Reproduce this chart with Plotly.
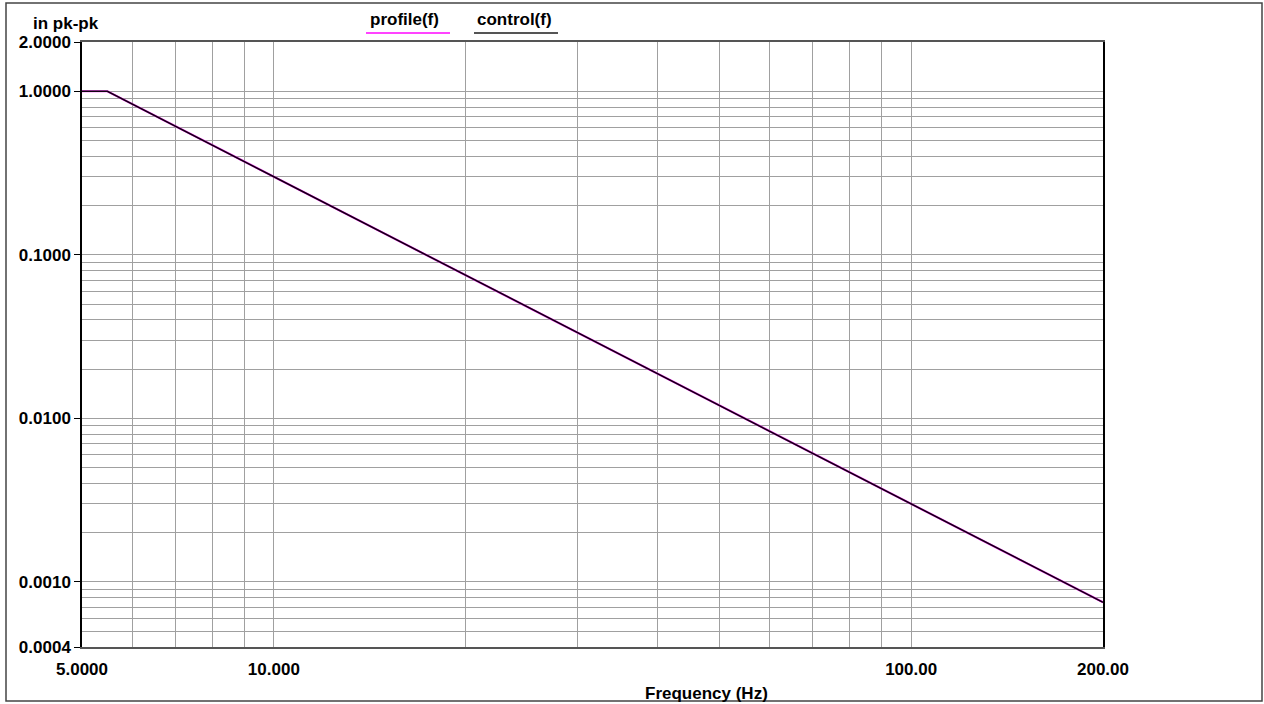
import plotly.graph_objects as go

# ---- data ----
freq_hz = [5.0, 5.48, 10.0, 20.0, 50.0, 100.0, 200.0]
profile_in = [1.0, 1.0, 0.300, 0.0751, 0.0120, 0.00300, 0.00075]
control_in = [1.0, 1.0, 0.300, 0.0751, 0.0120, 0.00300, 0.00075]

x_tick_vals = [5, 10, 100, 200]
x_tick_text = ["5.0000", "10.000", "100.00", "200.00"]
x_minor_vals = [6, 7, 8, 9, 20, 30, 40, 50, 60, 70, 80, 90]

y_tick_vals = [0.0004, 0.001, 0.01, 0.1, 1.0, 2.0]
y_tick_text = ["0.0004", "0.0010", "0.0100", "0.1000", "1.0000", "2.0000"]
y_minor_vals = [0.0005, 0.0006, 0.0007, 0.0008, 0.0009,
                0.002, 0.003, 0.004, 0.005, 0.006, 0.007, 0.008, 0.009,
                0.02, 0.03, 0.04, 0.05, 0.06, 0.07, 0.08, 0.09,
                0.2, 0.3, 0.4, 0.5, 0.6, 0.7, 0.8, 0.9]

# ---- layout geometry (pixels) ----
W, H = 1264, 704
L, R, T, B = 82, 1103, 42, 647
PW, PH = R - L, B - T


def px(x):
    return (x - L) / PW


def py(y):
    return (B - y) / PH


FONT = "Liberation Sans, Arial, sans-serif"
GRID = "#a0a0a0"

fig = go.Figure()
fig.add_trace(go.Scatter(x=freq_hz, y=profile_in, mode="lines", name="profile(f)",
                         line=dict(color="#ff33ff", width=2.2), showlegend=False))
fig.add_trace(go.Scatter(x=freq_hz, y=control_in, mode="lines", name="control(f)",
                         line=dict(color="#100010", width=1.6), showlegend=False))

fig.update_layout(
    width=W, height=H,
    margin=dict(l=L, r=W - R, t=T, b=H - B),
    paper_bgcolor="white", plot_bgcolor="white",
    font=dict(family=FONT, size=17, color="black"),
    showlegend=False,
)

fig.update_xaxes(
    type="log", range=[0.69897, 2.30103],
    tickmode="array", tickvals=x_tick_vals, ticktext=x_tick_text,
    tickfont=dict(family=FONT, size=17, color="black", weight="bold"),
    ticks="", ticklabelstandoff=6,
    showgrid=True, gridcolor=GRID, gridwidth=1,
    minor=dict(tickmode="array", tickvals=x_minor_vals, showgrid=True,
               gridcolor=GRID, gridwidth=1, ticks=""),
    showline=True, linecolor="#555555", linewidth=1.5, mirror=True,
    zeroline=False,
)
fig.update_yaxes(
    type="log", range=[-3.39794, 0.30103],
    tickmode="array", tickvals=y_tick_vals, ticktext=y_tick_text,
    tickfont=dict(family=FONT, size=17, color="black", weight="bold"),
    ticks="outside", ticklen=6, tickcolor="black", tickwidth=1,
    showgrid=True, gridcolor=GRID, gridwidth=1,
    minor=dict(tickmode="array", tickvals=y_minor_vals, showgrid=True,
               gridcolor=GRID, gridwidth=1, ticks=""),
    showline=True, linecolor="black", linewidth=1.5, mirror=True,
    zeroline=False,
)

shapes = [
    # outer frame
    dict(type="rect", xref="paper", yref="paper",
         x0=px(6), x1=px(1262), y0=py(701), y1=py(3),
         line=dict(color="#444444", width=1.5), fillcolor="rgba(0,0,0,0)", layer="below"),
    # legend underlines
    dict(type="line", xref="paper", yref="paper",
         x0=px(366), x1=px(450), y0=py(33), y1=py(33),
         line=dict(color="#ff44ff", width=2)),
    dict(type="line", xref="paper", yref="paper",
         x0=px(474), x1=px(558), y0=py(33), y1=py(33),
         line=dict(color="#555555", width=2)),
]
fig.update_layout(shapes=shapes)

bold = dict(family=FONT, size=17, color="black", weight="bold")
annotations = [
    dict(text="in pk-pk", xref="paper", yref="paper", x=px(31), y=py(23),
         xanchor="left", yanchor="middle", showarrow=False, font=bold),
    dict(text="profile(f)", xref="paper", yref="paper", x=px(404), y=py(19),
         xanchor="center", yanchor="middle", showarrow=False, font=bold),
    dict(text="control(f)", xref="paper", yref="paper", x=px(514), y=py(19),
         xanchor="center", yanchor="middle", showarrow=False, font=bold),
    dict(text="Frequency (Hz)", xref="paper", yref="paper", x=px(706), y=py(693),
         xanchor="center", yanchor="middle", showarrow=False, font=bold),
]
fig.update_layout(annotations=annotations)

fig.write_html("out.html")
